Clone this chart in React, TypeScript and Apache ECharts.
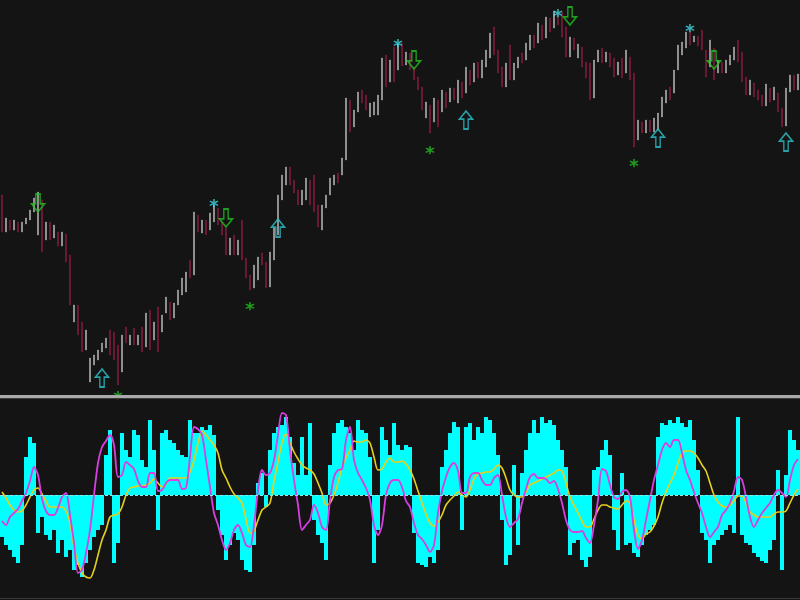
import React, { useEffect, useRef } from "react";
import * as echarts from "echarts";

// ---- price pane (arbitrary points) ----
const opens = [
  205,168,180,170,178,168,176,180,188,165,
  200,160,178,162,168,154,166,145,78,95,
  78,50,18,35,40,48,52,70,68,55,
  28,73,55,72,55,73,53,90,60,93,
  68,87,98,82,95,105,108,140,125,185,
  167,180,170,178,192,178,172,145,165,145,
  180,142,125,112,120,147,138,113,140,165,
  200,215,233,220,210,195,200,220,225,195,
  170,192,205,215,227,225,240,300,273,288,
  310,305,283,285,285,300,345,318,353,330,
  357,335,347,333,323,313,282,295,278,300,
  288,308,298,312,297,318,307,330,318,338,
  322,333,342,373,350,333,313,355,320,332,
  347,340,350,365,357,375,362,382,372,386,
  388,373,343,362,342,353,338,337,302,338,
  352,338,347,342,325,342,327,343,327,260,
  278,267,280,268,270,283,297,313,307,330,
  345,352,370,358,364,370,350,333,352,327,
  338,327,335,340,360,348,323,305,317,310,
  305,294,312,300,307,292,274,308,325,310,
];
const closes = [
  168,182,170,180,168,178,182,190,202,208,
  148,178,160,175,154,168,138,95,95,65,
  48,70,42,45,50,57,62,45,40,15,
  65,57,65,55,65,48,87,50,78,48,
  85,103,80,97,110,122,128,122,188,168,
  180,165,187,195,175,165,145,162,145,160,
  140,122,110,135,143,135,112,148,172,205,
  225,233,215,207,195,210,222,195,188,173,
  195,205,222,225,217,242,302,268,290,308,
  297,290,297,298,305,342,313,340,318,356,
  334,348,330,320,310,290,298,267,302,273,
  310,292,312,300,320,302,333,315,337,322,
  340,350,367,345,327,313,337,320,337,343,
  337,357,365,352,377,360,383,368,389,375,
  363,343,363,350,356,333,322,300,340,350,
  337,348,333,323,338,322,350,320,253,280,
  267,280,268,282,287,303,310,300,330,355,
  358,368,355,364,354,350,323,360,320,340,
  327,340,345,353,338,318,305,320,303,300,
  294,316,298,313,288,273,312,325,310,326,
];

// signal markers: [bar index, price]
const sellArrows = [[9, 197], [56, 182], [103, 340], [142, 384], [178, 340]];
const buyArrows = [[25, 22], [69, 172], [116, 280], [164, 262], [196, 258]];
const topStars = [[53, 200], [99, 360], [139, 390], [172, 375]];
const bottomStars = [[29, 8], [62, 97], [107, 253], [158, 240]];

// ---- oscillator pane ----
const histogram = [
  -42,-50,-55,-62,-68,-50,38,58,52,-38,
  -22,-40,-45,-35,-58,-45,-62,-55,-75,-70,
  -82,-68,-55,-42,-35,-30,40,65,-68,-48,
  62,45,38,65,60,35,28,75,45,-35,
  62,65,55,52,45,40,38,75,62,62,
  68,65,70,60,-15,-40,-65,-50,-38,-45,
  -65,-75,-77,-50,12,22,-12,45,62,68,
  70,78,58,32,20,58,20,72,-25,-40,
  -48,-65,30,62,72,75,68,62,45,75,
  65,62,38,-68,-35,68,55,40,72,50,
  45,50,48,-38,-68,-70,-72,-62,-68,-55,
  28,45,62,73,68,-35,68,72,55,68,
  62,78,75,62,40,-25,-70,-60,30,-50,
  22,45,62,75,62,78,72,75,70,55,
  45,28,-60,-48,-45,-65,-72,-62,25,28,
  45,55,40,-35,-55,22,-50,-48,-58,-62,
  -50,-40,-35,-30,58,72,70,75,72,78,
  72,68,75,55,25,-38,-45,-68,-50,-45,
  -40,-35,-30,-38,78,-40,-48,-50,-58,-62,
  -66,-68,-55,-45,25,-75,20,65,55,45,
];
const fastLine = [
  -26,-30,-22,-18,-14,-6,2,14,28,20,
  -4,-16,-20,-20,-13,-2,2,-20,-48,-78,
  -75,-58,-35,0,32,48,54,60,50,18,
  20,33,30,26,14,8,8,22,22,4,
  5,12,15,15,15,6,7,38,68,66,
  60,35,8,-18,-30,-45,-55,-48,-35,-30,
  -38,-50,-52,-30,5,25,20,22,35,60,
  82,80,45,15,-10,-35,-30,-25,-10,-18,
  -32,-35,-5,18,25,26,55,68,35,22,
  15,7,-5,-30,-40,-30,0,12,15,15,
  8,-6,-12,-28,-40,-44,-50,-57,-50,-18,
  4,18,28,32,24,2,2,18,22,22,
  15,10,10,17,20,0,-22,-32,-28,-24,
  -8,6,18,21,17,17,16,12,14,6,
  -8,-25,-35,-37,-37,-36,-43,-48,-30,-5,
  26,24,10,-2,-4,3,5,-2,-35,-54,
  -45,-25,-5,15,30,45,52,48,55,55,
  42,25,15,3,-8,-18,-32,-42,-37,-32,
  -20,-15,-8,4,18,15,-2,-22,-32,-25,
  -18,-13,-8,0,5,2,-2,15,30,36,
];
const slowLine = [
  3,-3,-10,-15,-17,-16,-10,-2,5,7,
  1,-6,-12,-12,-12,-12,-16,-28,-52,-68,
  -78,-82,-83,-75,-60,-45,-35,-22,-20,-19,
  -12,0,7,8,9,9,10,12,16,12,
  8,11,17,17,17,17,17,23,35,52,
  64,60,55,50,42,25,17,8,1,-3,
  -8,-24,-38,-36,-25,-15,-12,-8,14,33,
  52,61,52,43,36,30,27,25,21,12,
  2,-10,-8,0,12,28,37,45,54,53,
  53,55,52,38,25,26,33,37,33,33,
  34,31,25,16,4,-8,-19,-28,-31,-27,
  -20,-10,-5,-1,3,0,-2,5,16,21,
  22,23,23,26,30,27,17,5,0,-2,
  -2,3,10,12,14,16,18,20,22,25,
  24,12,-2,-10,-18,-26,-32,-32,-24,-15,
  -10,-10,-12,-13,-14,-10,-6,-8,-25,-40,
  -44,-39,-37,-31,-22,-8,3,12,20,32,
  42,44,44,42,37,30,24,12,0,-7,
  -11,-12,-10,-6,-1,-1,-8,-17,-20,-22,
  -22,-22,-22,-19,-17,-17,-16,-8,0,6,
];

const barIndex = opens.map((_, i) => String(i));

const BG = "#141414";
const UP = "#c4c4c4";
const DOWN = "#8e1c3e";
const CYAN_MARK = "#2cc4cc";
const CYAN_STAR = "#3cd8ea";
const GREEN_MARK = "#22c022";
const ARROW = "path://M5,20 L5,9 L0,9 L7.5,0 L15,9 L10,9 L10,20 Z";

export default function App() {
  const ref = useRef<HTMLDivElement>(null);
  useEffect(() => {
    document.body.style.margin = "0";
    const chart = echarts.init(ref.current!, null, { renderer: "svg" });
    const ohlc = opens.map((o, i) => {
      const c = closes[i];
      return [o, c, Math.min(o, c), Math.max(o, c)];
    });
    const starLabel = (color: string) => ({
      show: true,
      formatter: "*",
      position: "inside" as const,
      fontSize: 18,
      fontWeight: "bold" as const,
      fontFamily: "DejaVu Sans",
      color,
      offset: [0, 5],
    });
    chart.setOption({
      animation: false,
      backgroundColor: BG,
      grid: [
        { left: 0, right: 0, top: 0, height: 400 },
        { left: 0, right: 0, top: 400, height: 190 },
      ],
      xAxis: [
        { type: "category", data: barIndex, gridIndex: 0, show: false, boundaryGap: true },
        { type: "category", data: barIndex, gridIndex: 1, show: false, boundaryGap: true },
      ],
      yAxis: [
        { type: "value", gridIndex: 0, min: 0, max: 400, show: false, splitLine: { show: false } },
        { type: "value", gridIndex: 1, min: -95, max: 95, show: false, splitLine: { show: false } },
      ],
      series: [
        {
          type: "candlestick",
          xAxisIndex: 0,
          yAxisIndex: 0,
          data: ohlc,
          barWidth: 2.4,
          itemStyle: {
            color: UP,
            color0: DOWN,
            borderColor: UP,
            borderColor0: DOWN,
            borderWidth: 0.4,
          },
        },
        {
          type: "scatter",
          xAxisIndex: 0,
          yAxisIndex: 0,
          data: sellArrows,
          symbol: ARROW,
          symbolSize: [13, 18],
          symbolRotate: 180,
          itemStyle: { color: "rgba(0,0,0,0)", borderColor: GREEN_MARK, borderWidth: 1.6 },
          z: 5,
        },
        {
          type: "scatter",
          xAxisIndex: 0,
          yAxisIndex: 0,
          data: buyArrows,
          symbol: ARROW,
          symbolSize: [13, 18],
          itemStyle: { color: "rgba(0,0,0,0)", borderColor: CYAN_MARK, borderWidth: 1.6 },
          z: 5,
        },
        {
          type: "scatter",
          xAxisIndex: 0,
          yAxisIndex: 0,
          data: topStars,
          symbolSize: 1,
          itemStyle: { color: "rgba(0,0,0,0)" },
          label: starLabel(CYAN_STAR),
          z: 5,
        },
        {
          type: "scatter",
          xAxisIndex: 0,
          yAxisIndex: 0,
          data: bottomStars,
          symbolSize: 1,
          itemStyle: { color: "rgba(0,0,0,0)" },
          label: starLabel(GREEN_MARK),
          z: 5,
        },
        {
          type: "bar",
          xAxisIndex: 1,
          yAxisIndex: 1,
          data: histogram,
          barCategoryGap: "0%",
          itemStyle: { color: "#00ffff" },
          markLine: {
            silent: true,
            symbol: "none",
            label: { show: false },
            lineStyle: { color: "#8ee8e8", type: [3, 2], width: 1 },
            data: [{ yAxis: 0 }],
          },
        },
        {
          type: "line",
          xAxisIndex: 1,
          yAxisIndex: 1,
          data: slowLine,
          showSymbol: false,
          smooth: 0.3,
          lineStyle: { color: "#e6d01e", width: 1.6 },
          z: 3,
        },
        {
          type: "line",
          xAxisIndex: 1,
          yAxisIndex: 1,
          data: fastLine,
          showSymbol: false,
          smooth: 0.3,
          lineStyle: { color: "#d83ee0", width: 1.8 },
          z: 4,
        },
      ],
      graphic: [
        { type: "rect", shape: { x: 0, y: 395, width: 800, height: 3 }, style: { fill: "#a9a9a9" }, z: 100 },
        { type: "rect", shape: { x: 0, y: 398, width: 800, height: 1 }, style: { fill: "#3a3a3a" }, z: 100 },
        { type: "rect", shape: { x: 0, y: 598, width: 800, height: 1 }, style: { fill: "#3a3a3a" }, z: 100 },
      ],
    });
    return () => chart.dispose();
  }, []);
  return (
    <div
      ref={ref}
      style={{ position: "absolute", left: 0, top: 0, width: 800, height: 600 }}
    />
  );
}
